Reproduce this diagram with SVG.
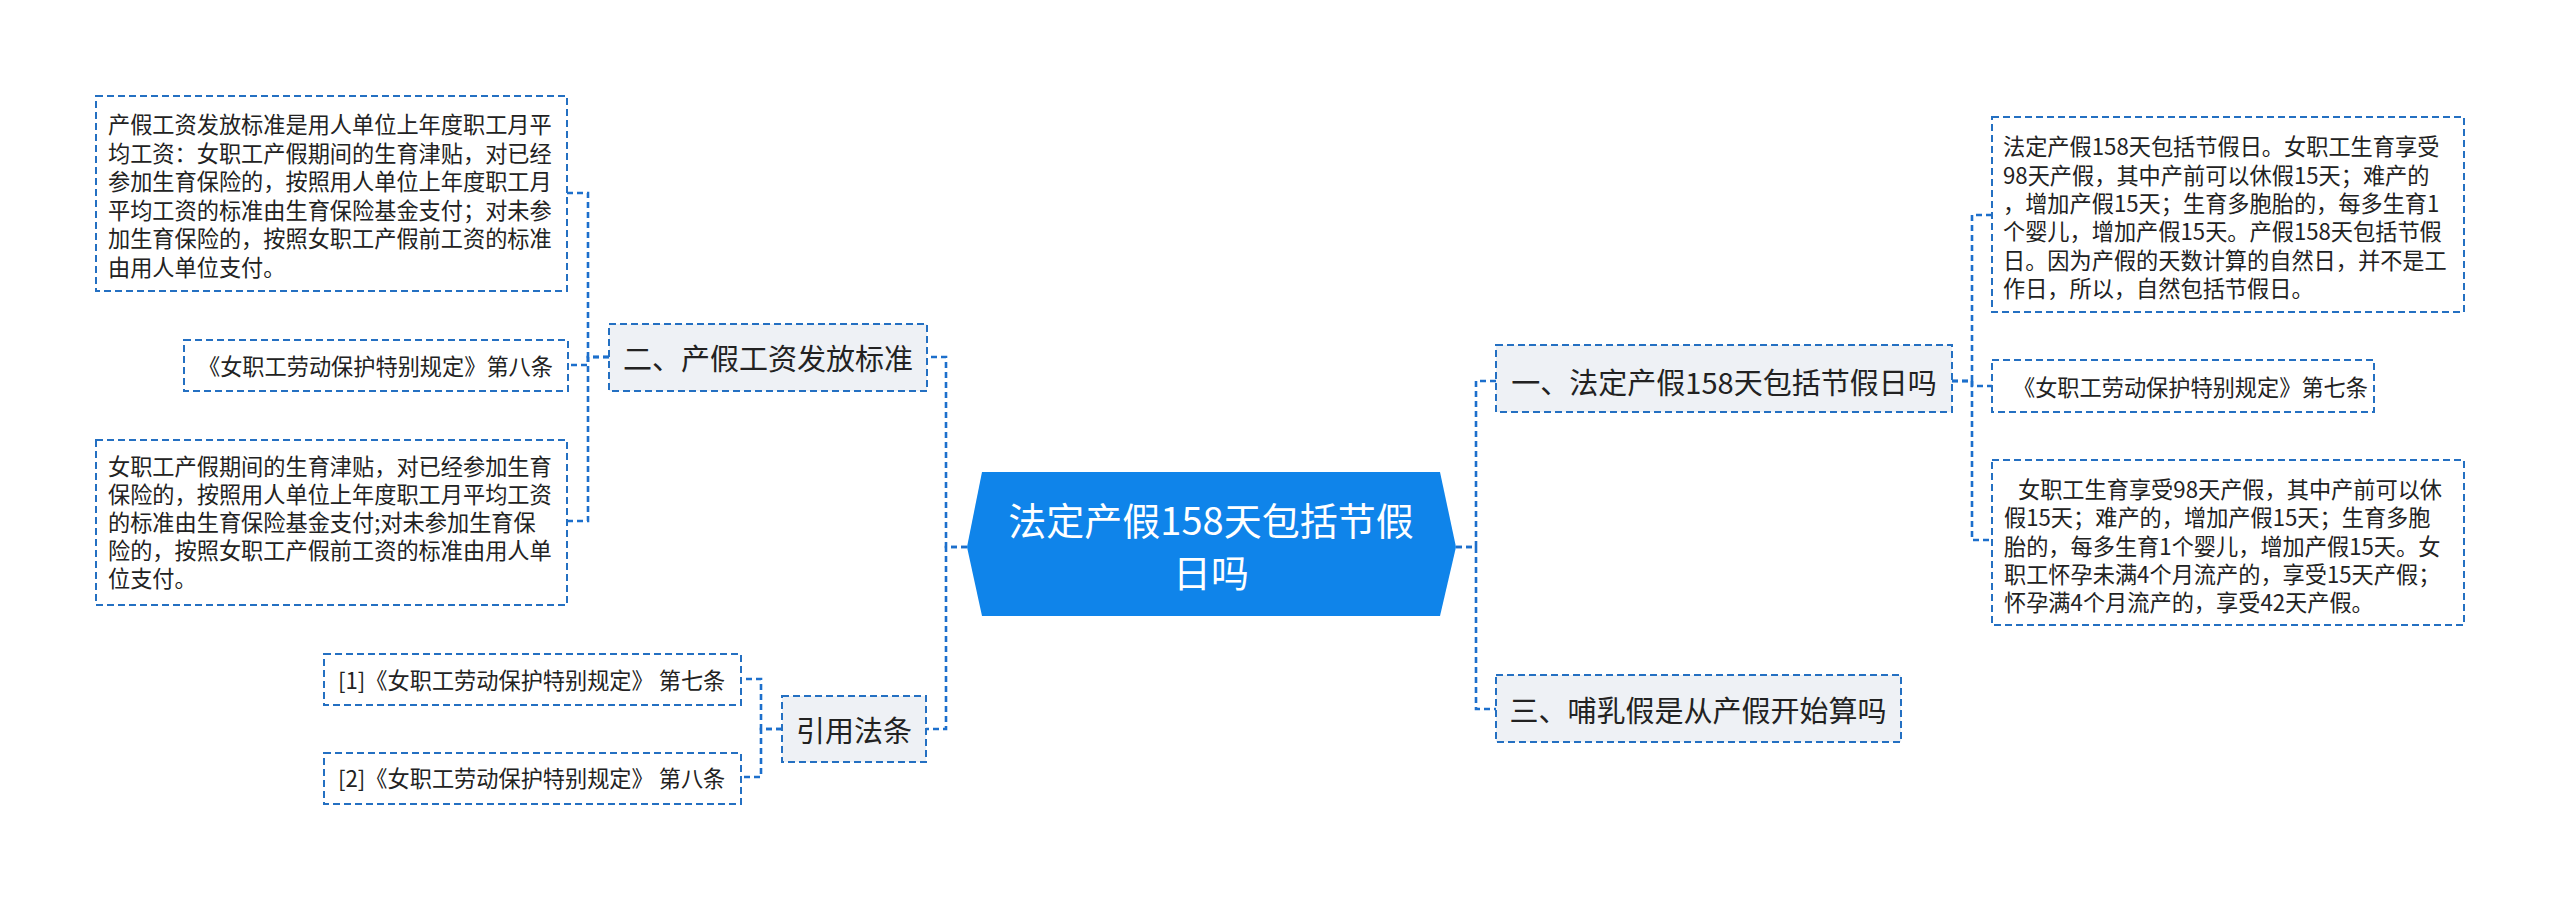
<svg xmlns="http://www.w3.org/2000/svg" width="2560" height="901" viewBox="0 0 2560 901">
<style>
text{font-family:"Microsoft YaHei","Noto Sans CJK SC","Noto Sans",sans-serif;fill:#222;dominant-baseline:central}
.leaf rect{fill:#fff;stroke:#2470c2;stroke-width:2;stroke-dasharray:7 4}
.sub rect{fill:#eef1f5;stroke:#2470c2;stroke-width:2;stroke-dasharray:7 4}
.leaf text{font-size:22.2px}
.sub text{font-size:29px}
#connectors path{fill:none;stroke:#1c6fcc;stroke-width:2.6;stroke-dasharray:6 4}
.root polygon{fill:#0f84ea}
.root text{fill:#fff;font-size:38px;text-anchor:middle}
</style>
<rect width="2560" height="901" fill="#fff"/>
<g id="connectors">
<path d="M967,547 H946 V357 H927"/>
<path d="M967,547 H946 V729 H926"/>
<path d="M609,357 H588 V193 H567"/>
<path d="M609,357 H588 V365 H568"/>
<path d="M609,357 H588 V521 H567"/>
<path d="M782,729 H761 V679 H741"/>
<path d="M782,729 H761 V777 H741"/>
<path d="M1456,547 H1476 V381 H1496"/>
<path d="M1456,547 H1476 V709 H1496"/>
<path d="M1952,381 H1972 V215 H1992"/>
<path d="M1952,381 H1972 V386 H1992"/>
<path d="M1952,381 H1972 V540 H1992"/>
</g>
<g id="root" class="root">
<polygon points="982,472 1440,472 1456,547 1440,616 982,616 967,547"/>
<text x="1211" y="518">法定产假158天包括节假</text>
<text x="1211" y="570">日吗</text>
</g>
<g id="n2" class="sub">
<rect x="609" y="324" width="318" height="67"/>
<text x="768" y="357" text-anchor="middle">二、产假工资发放标准</text>
</g>
<g id="n2a" class="leaf">
<rect x="96" y="96" width="471" height="195"/>
<text x="108" y="123">产假工资发放标准是用人单位上年度职工月平</text>
<text x="108" y="151.5">均工资：女职工产假期间的生育津贴，对已经</text>
<text x="108" y="180">参加生育保险的，按照用人单位上年度职工月</text>
<text x="108" y="208.5">平均工资的标准由生育保险基金支付；对未参</text>
<text x="108" y="237">加生育保险的，按照女职工产假前工资的标准</text>
<text x="108" y="265.5">由用人单位支付。</text>
</g>
<g id="n2b" class="leaf">
<rect x="184" y="340" width="384" height="51"/>
<text x="198" y="365">《女职工劳动保护特别规定》第八条</text>
</g>
<g id="n2c" class="leaf">
<rect x="96" y="440" width="471" height="165"/>
<text x="108" y="465">女职工产假期间的生育津贴，对已经参加生育</text>
<text x="108" y="493">保险的，按照用人单位上年度职工月平均工资</text>
<text x="108" y="521">的标准由生育保险基金支付;对未参加生育保</text>
<text x="108" y="549">险的，按照女职工产假前工资的标准由用人单</text>
<text x="108" y="577">位支付。</text>
</g>
<g id="n4" class="sub">
<rect x="782" y="696" width="144" height="66"/>
<text x="854" y="729" text-anchor="middle">引用法条</text>
</g>
<g id="n4a" class="leaf">
<rect x="324" y="654" width="417" height="51"/>
<text x="338" y="679">[1]《女职工劳动保护特别规定》 第七条</text>
</g>
<g id="n4b" class="leaf">
<rect x="324" y="753" width="417" height="51"/>
<text x="338" y="777">[2]《女职工劳动保护特别规定》 第八条</text>
</g>
<g id="n1" class="sub">
<rect x="1496" y="345" width="456" height="67"/>
<text x="1724" y="381" text-anchor="middle">一、法定产假158天包括节假日吗</text>
</g>
<g id="n1a" class="leaf">
<rect x="1992" y="117" width="472" height="195"/>
<text x="2003" y="145">法定产假158天包括节假日。女职工生育享受</text>
<text x="2003" y="173.5">98天产假，其中产前可以休假15天；难产的</text>
<text x="2003" y="202">，增加产假15天；生育多胞胎的，每多生育1</text>
<text x="2003" y="230">个婴儿，增加产假15天。产假158天包括节假</text>
<text x="2003" y="258.5">日。因为产假的天数计算的自然日，并不是工</text>
<text x="2003" y="287">作日，所以，自然包括节假日。</text>
</g>
<g id="n1b" class="leaf">
<rect x="1992" y="360" width="382" height="52"/>
<text x="2013" y="386">《女职工劳动保护特别规定》第七条</text>
</g>
<g id="n1c" class="leaf">
<rect x="1992" y="460" width="472" height="165"/>
<text x="2018" y="488">女职工生育享受98天产假，其中产前可以休</text>
<text x="2004" y="516">假15天；难产的，增加产假15天；生育多胞</text>
<text x="2004" y="545">胎的，每多生育1个婴儿，增加产假15天。女</text>
<text x="2004" y="573">职工怀孕未满4个月流产的，享受15天产假；</text>
<text x="2004" y="601">怀孕满4个月流产的，享受42天产假。</text>
</g>
<g id="n3" class="sub">
<rect x="1496" y="675" width="405" height="67"/>
<text x="1698" y="709" text-anchor="middle">三、哺乳假是从产假开始算吗</text>
</g>
</svg>
